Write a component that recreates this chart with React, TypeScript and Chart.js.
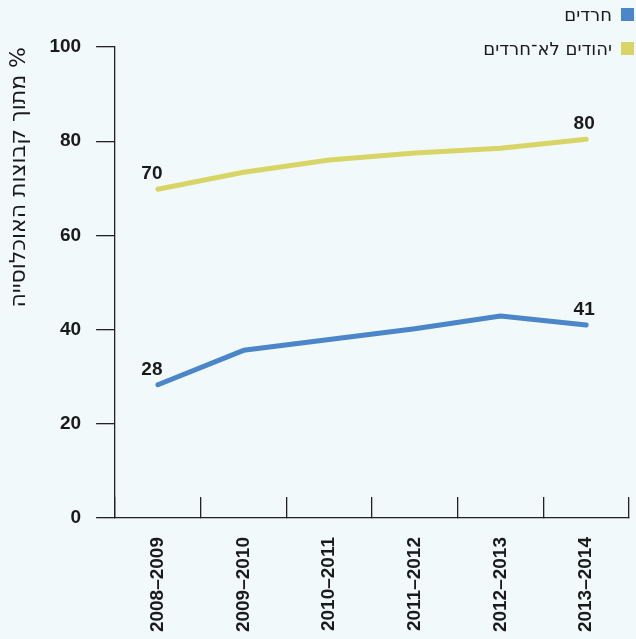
import React, { useEffect, useRef } from "react";
import { Chart, registerables } from "chart.js";

Chart.register(...registerables);

const categories = ["2008–2009", "2009–2010", "2010–2011", "2011–2012", "2012–2013", "2013–2014"];
const haredimValues = [28.3, 35.6, 37.9, 40.2, 42.9, 41.0];
const nonHaredimValues = [69.8, 73.4, 76.0, 77.5, 78.5, 80.4];
const seriesLabels = ["חרדים", "יהודים לא־חרדים"];
const seriesColors = ["#4a86c8", "#d8d566"];
const yTitle = "מתוך קבוצות האוכלוסייה %";

const BG = "#f1f9fb";
const TEXT = "#1a1a1a";
const FONT = "'Liberation Sans', Arial, sans-serif";
const HFONT = "'DejaVu Sans', sans-serif";

const legendPlugin = {
  id: "customLegend",
  afterDraw(chart: any) {
    const ctx = chart.ctx;
    ctx.save();
    ctx.font = `18px ${HFONT}`;
    ctx.textAlign = "right";
    ctx.textBaseline = "middle";
    const right = chart.width - 2;
    chart.data.datasets.forEach((ds: any, i: number) => {
      const cy = 15 + i * 34;
      ctx.fillStyle = ds.borderColor;
      ctx.fillRect(right - 13, cy - 7, 13, 13);
      ctx.fillStyle = TEXT;
      ctx.fillText(ds.label, right - 22, cy + 1);
    });
    ctx.restore();
  },
};

const endLabelPlugin = {
  id: "endLabels",
  afterDatasetsDraw(chart: any) {
    const ctx = chart.ctx;
    ctx.save();
    ctx.font = `bold 19px ${FONT}`;
    ctx.fillStyle = TEXT;
    ctx.textAlign = "center";
    ctx.textBaseline = "alphabetic";
    chart.data.datasets.forEach((ds: any, di: number) => {
      const meta = chart.getDatasetMeta(di);
      const idxs = [0, ds.data.length - 1];
      idxs.forEach((idx, k) => {
        const pt = meta.data[idx];
        const dx = k === 0 ? -6 : -2;
        ctx.fillText(String(Math.round(ds.data[idx])), pt.x + dx, pt.y - 10);
      });
    });
    ctx.restore();
  },
};

export default function App() {
  const canvasRef = useRef<HTMLCanvasElement>(null);

  useEffect(() => {
    document.body.style.margin = "0";
    document.body.style.background = BG;
    const chart = new Chart(canvasRef.current!, {
      type: "line",
      data: {
        labels: categories,
        datasets: seriesLabels.map((label, i) => ({
          label,
          data: i === 0 ? haredimValues : nonHaredimValues,
          borderColor: seriesColors[i],
          backgroundColor: seriesColors[i],
          borderWidth: 5,
          pointRadius: 0,
          borderCapStyle: "round",
          borderJoinStyle: "round",
          tension: 0,
        })),
      },
      options: {
        animation: false,
        responsive: false,
        maintainAspectRatio: false,
        layout: { padding: { top: 47, right: 7, bottom: 0, left: 6 } },
        plugins: {
          legend: { display: false },
          tooltip: { enabled: false },
        },
        scales: {
          x: {
            type: "category",
            offset: true,
            afterFit: (scale: any) => {
              scale.height = 121;
              scale.paddingRight = 0;
              scale.paddingLeft = 0;
            },
            grid: {
              offset: true,
              drawOnChartArea: false,
              drawTicks: true,
              tickLength: -21,
              color: "#222",
              tickColor: "#222",
              lineWidth: 1.3,
            },
            border: { display: true, color: "#222", width: 1.3 },
            ticks: {
              minRotation: 90,
              maxRotation: 90,
              padding: 40,
              color: TEXT,
              font: { family: FONT, size: 19, weight: "bold" },
            },
          },
          y: {
            min: 0,
            max: 100,
            grid: {
              drawOnChartArea: false,
              drawTicks: true,
              tickLength: 19,
              color: "#222",
              tickColor: "#222",
              lineWidth: 1.3,
            },
            border: { display: true, color: "#222", width: 1.3 },
            ticks: {
              stepSize: 20,
              padding: 15,
              color: TEXT,
              font: { family: FONT, size: 19, weight: "bold" },
            },
            title: {
              display: true,
              text: yTitle,
              align: "end",
              color: TEXT,
              padding: { top: 0, bottom: 2 },
              font: { family: HFONT, size: 22 },
            },
          },
        },
      },
      plugins: [legendPlugin, endLabelPlugin],
    });
    return () => chart.destroy();
  }, []);

  return (
    <div style={{ width: 636, height: 639, background: BG }}>
      <canvas ref={canvasRef} width={636} height={639} style={{ display: "block" }} />
    </div>
  );
}
